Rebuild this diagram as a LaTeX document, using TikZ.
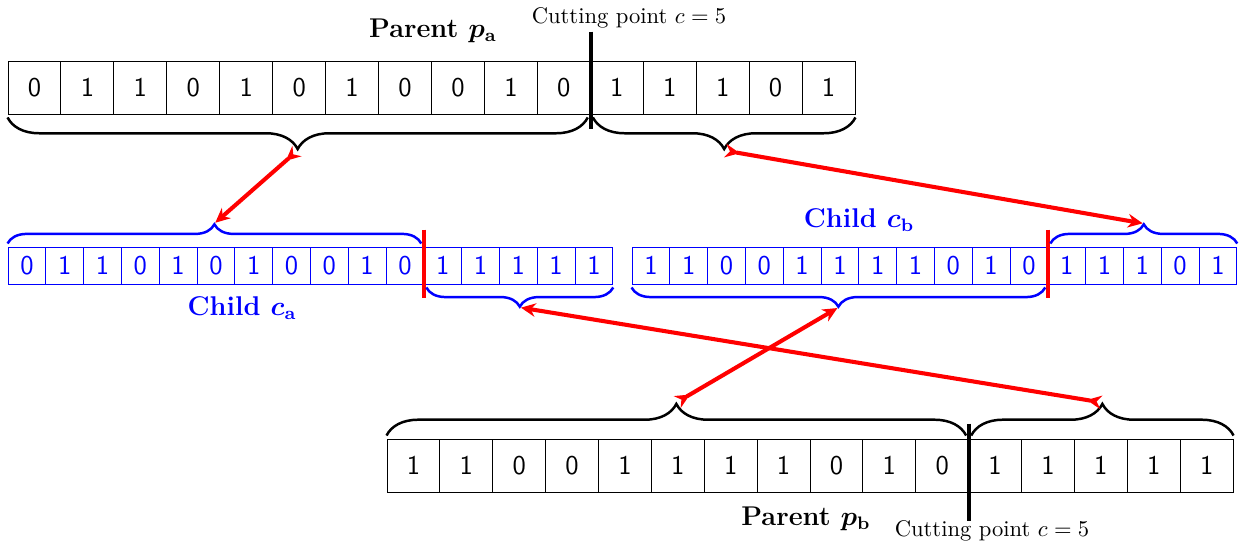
\documentclass[tikz,border=0pt]{standalone}
\usetikzlibrary{arrows.meta,decorations.pathreplacing,calc}
\begin{document}
\begin{tikzpicture}[x=0.4425pt,y=-0.4425pt,
  bit/.style={draw=black,line width=0.4pt,minimum width=23.42pt,minimum height=23.45pt,
    inner sep=0pt,font=\sffamily\large},
  cbit/.style={draw=blue,text=blue,line width=0.4pt,minimum width=16.73pt,minimum height=16.4pt,
    inner sep=0pt,font=\sffamily\large},
  bigbrace/.style={decorate,decoration={brace,amplitude=14pt},line width=1.1pt},
  smallbrace/.style={decorate,decoration={brace,amplitude=8.5pt},line width=1.1pt,draw=blue},
  cutline/.style={line width=1.8pt},
  ccut/.style={line width=1.6pt,draw=red},
  swap/.style={draw=red,line width=1.8pt,
    arrows={Stealth[reversed,length=6.5pt,width=6pt]-Stealth[length=6.5pt,width=6pt]},
    shorten <=0.5pt,shorten >=0.5pt},
  title/.style={font=\large\bfseries\boldmath},
  cutlabel/.style={font=\normalsize}]
\useasboundingbox (0,0) rectangle (1240,545);

% chromosomes
\foreach \b [count=\i] in {0,1,1,0,1,0,1,0,0,1,0,1,1,1,0,1}
  \node[bit] (pa\i) at ({8+(\i-0.5)*52.94},87.5) {\b};
\foreach \b [count=\i] in {0,1,1,0,1,0,1,0,0,1,0,1,1,1,1,1}
  \node[cbit] (ca\i) at ({8+(\i-0.5)*37.8},265.5) {\b};
\foreach \b [count=\i] in {1,1,0,0,1,1,1,1,0,1,0,1,1,1,0,1}
  \node[cbit] (cb\i) at ({632+(\i-0.5)*37.8},265.5) {\b};
\foreach \b [count=\i] in {1,1,0,0,1,1,1,1,0,1,0,1,1,1,1,1}
  \node[bit] (pb\i) at ({387+(\i-0.5)*52.88},465.5) {\b};

% labels
\node[title] (tpa) at (433,31) {Parent $p_{\mathbf{a}}$};
\node[title] (tpb) at (806,519) {Parent $p_{\mathbf{b}}$};
\node[title,text=blue] (tca) at (242,308) {Child $c_{\mathbf{a}}$};
\node[title,text=blue] (tcb) at (859,220) {Child $c_{\mathbf{b}}$};
\node[cutlabel] (cpa) at (629,18) {Cutting point $c=5$};
\node[cutlabel] (cpb) at (992,531) {Cutting point $c=5$};

% cutting points
\draw[cutline] ($(pa11.north east)+(0,-29)$) -- ($(pa11.south east)+(0,15)$);
\draw[cutline] ($(pb11.north east)+(0,-15)$) -- ($(pb11.south east)+(0,29)$);
\draw[ccut] ($(ca11.north east)+(0,-17)$) -- ($(ca11.south east)+(0,14)$);
\draw[ccut] ($(cb11.north east)+(0,-17)$) -- ($(cb11.south east)+(0,14)$);

% brace end points
\coordinate (paLa) at ($(pa11.south east)+(-3,3)$);
\coordinate (paLb) at ($(pa1.south west)+(0,3)$);
\coordinate (paRa) at ($(pa16.south east)+(0,3)$);
\coordinate (paRb) at ($(pa12.south west)+(3,3)$);
\coordinate (caLa) at ($(ca1.north west)+(0,-3)$);
\coordinate (caLb) at ($(ca11.north east)+(-3,-3)$);
\coordinate (caRa) at ($(ca16.south east)+(0,3)$);
\coordinate (caRb) at ($(ca12.south west)+(3,3)$);
\coordinate (cbLa) at ($(cb11.south east)+(-3,3)$);
\coordinate (cbLb) at ($(cb1.south west)+(0,3)$);
\coordinate (cbRa) at ($(cb12.north west)+(3,-3)$);
\coordinate (cbRb) at ($(cb16.north east)+(0,-3)$);
\coordinate (pbLa) at ($(pb1.north west)+(0,-3)$);
\coordinate (pbLb) at ($(pb11.north east)+(-3,-3)$);
\coordinate (pbRa) at ($(pb12.north west)+(3,-3)$);
\coordinate (pbRb) at ($(pb16.north east)+(0,-3)$);

% braces
\draw[bigbrace] (paLa) -- (paLb);
\draw[bigbrace] (paRa) -- (paRb);
\draw[bigbrace] (pbLa) -- (pbLb);
\draw[bigbrace] (pbRa) -- (pbRb);
\draw[smallbrace] (caLa) -- (caLb);
\draw[smallbrace] (caRa) -- (caRb);
\draw[smallbrace] (cbLa) -- (cbLb);
\draw[smallbrace] (cbRa) -- (cbRb);

% brace tips
\coordinate (paL) at ($(paLa)!0.5!(paLb)+(0,33)$);
\coordinate (paR) at ($(paRa)!0.5!(paRb)+(0,33)$);
\coordinate (pbL) at ($(pbLa)!0.5!(pbLb)+(0,-33)$);
\coordinate (pbR) at ($(pbRa)!0.5!(pbRb)+(0,-33)$);
\coordinate (caL) at ($(caLa)!0.5!(caLb)+(0,-20)$);
\coordinate (caR) at ($(caRa)!0.5!(caRb)+(0,20)$);
\coordinate (cbL) at ($(cbLa)!0.5!(cbLb)+(0,20)$);
\coordinate (cbR) at ($(cbRa)!0.5!(cbRb)+(0,-20)$);

% gene transfer
\draw[swap] (paL) -- (caL);
\draw[swap] (paR) -- (cbR);
\draw[swap] (pbL) -- (cbL);
\draw[swap] (pbR) -- (caR);
\end{tikzpicture}
\end{document}
